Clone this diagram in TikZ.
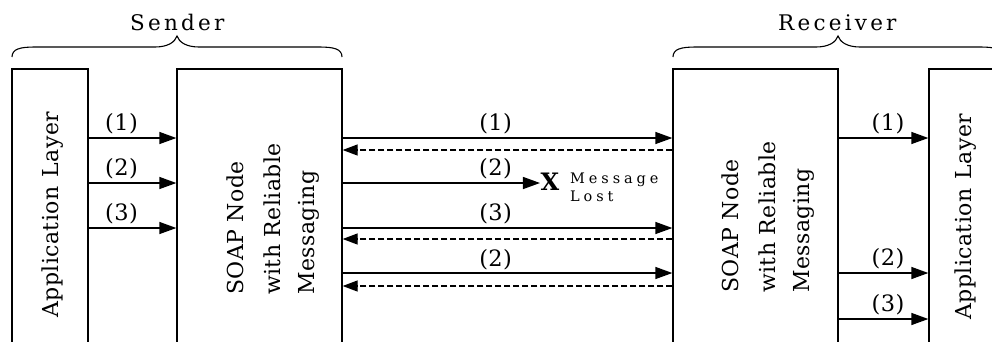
\documentclass[tikz,border=0pt]{standalone}
\usepackage{fontspec}
\setmainfont{DejaVu Serif}
\newfontfamily\mainf[LetterSpace=2]{DejaVu Serif}
\newfontfamily\titlef[LetterSpace=15]{DejaVu Serif}
\newfontfamily\lostf[LetterSpace=27]{DejaVu Serif}
\usetikzlibrary{arrows.meta}
\tikzset{
  curly/.pic={\draw[line width=1.1pt] (0,0) .. controls (0,-8) and (8,-10) .. (23,-10) -- (143,-10) .. controls (156,-10) and (163,-15) .. (165,-21) .. controls (167,-15) and (174,-10) .. (187,-10) -- (307,-10) .. controls (322,-10) and (330,-8) .. (330,0);}
}
\begin{document}
\begin{tikzpicture}[x=1pt,y=-1pt,
  box/.style={draw, line width=1.3pt, rectangle, inner sep=0pt, minimum height=331pt},
  arr/.style={line width=1.3pt, -{Triangle[length=17pt,width=12pt]}},
  back/.style={line width=1.3pt, dash pattern=on 6pt off 3pt, -{Triangle[length=15pt,width=11pt]}},
  lab/.style={font=\mainf\fontsize{22.5}{27}\selectfont, anchor=base, yshift=8pt, inner sep=0pt},
  vtxt/.style={font=\mainf\fontsize{22}{26}\selectfont, rotate=90, anchor=base west, inner sep=0pt},
  ttl/.style={font=\titlef\fontsize{21.5}{26}\selectfont, anchor=base west, inner sep=0pt},
  lost/.style={font=\lostf\fontsize{14.5}{18}\selectfont, align=left, anchor=north west, inner sep=0pt},
  xmark/.style={font=\bfseries\fontsize{24}{28}\selectfont, anchor=base, inner sep=0.5pt}]
\clip (0,0) rectangle (992,341);
% boxes
\node[box, minimum width=76pt] (lapp) at (50,234.5) {};
\node[box, minimum width=165pt] (sS) at (259.5,234.5) {};
\node[box, minimum width=165pt] (rS) at (755.5,234.5) {};
\node[box, minimum width=81pt] (rapp) at (969.5,234.5) {};
% titles and braces
\pic at (12,57) {curly};
\pic at (673,57) {curly};
\node[ttl] (snd) at (130,30) {Sender};
\node[ttl] (rcv) at (778,30) {Receiver};
% vertical texts
\node[vtxt] (lappt) at (58,318) {Application\hspace{2pt} Layer};
\node[vtxt] (rappt) at (971,320) {Application\hspace{2pt} Layer};
\node[vtxt] (s1) at (243,295) {SOAP Node};
\node[vtxt] (s2) at (280,295) {with Reliable};
\node[vtxt] (s3) at (314,295) {Messaging};
\node[vtxt] (t1) at (738,293) {SOAP Node};
\node[vtxt] (t2) at (775,293) {with Reliable};
\node[vtxt] (t3) at (809,293) {Messaging};
% rows
\coordinate (r1) at (0,138);
\coordinate (r1d) at (0,150);
\coordinate (r2) at (0,183);
\coordinate (r3) at (0,228);
\coordinate (r3d) at (0,239);
\coordinate (r4) at (0,273);
\coordinate (r4d) at (0,286);
\coordinate (r5) at (0,319);
% lost message mark
\node[xmark] (X) at (550,190) {X};
\node[lost] (msg) at (570,172.4) {Message\\Lost};
% sender application -> sender node
\draw[arr] (lapp.east |- r1) -- node[lab,pos=0.376]{(1)} (sS.west |- r1);
\draw[arr] (lapp.east |- r2) -- node[lab,pos=0.376]{(2)} (sS.west |- r2);
\draw[arr] (lapp.east |- r3) -- node[lab,pos=0.376]{(3)} (sS.west |- r3);
% sender node <-> receiver node
\draw[arr] (sS.east |- r1) -- node[lab,pos=0.464]{(1)} (rS.west |- r1);
\draw[back] (rS.west |- r1d) -- (sS.east |- r1d);
\draw[arr] (sS.east |- r2) -- node[lab,pos=0.775]{(2)} (X.west |- r2);
\draw[arr] (sS.east |- r3) -- node[lab,pos=0.464]{(3)} (rS.west |- r3);
\draw[back] (rS.west |- r3d) -- (sS.east |- r3d);
\draw[arr] (sS.east |- r4) -- node[lab,pos=0.464,yshift=-1pt]{(2)} (rS.west |- r4);
\draw[back] (rS.west |- r4d) -- (sS.east |- r4d);
% receiver node -> receiver application
\draw[arr] (rS.east |- r1) -- node[lab,pos=0.55]{(1)} (rapp.west |- r1);
\draw[arr] (rS.east |- r4) -- node[lab,pos=0.55]{(2)} (rapp.west |- r4);
\draw[arr] (rS.east |- r5) -- node[lab,pos=0.55]{(3)} (rapp.west |- r5);
\end{tikzpicture}
\end{document}
